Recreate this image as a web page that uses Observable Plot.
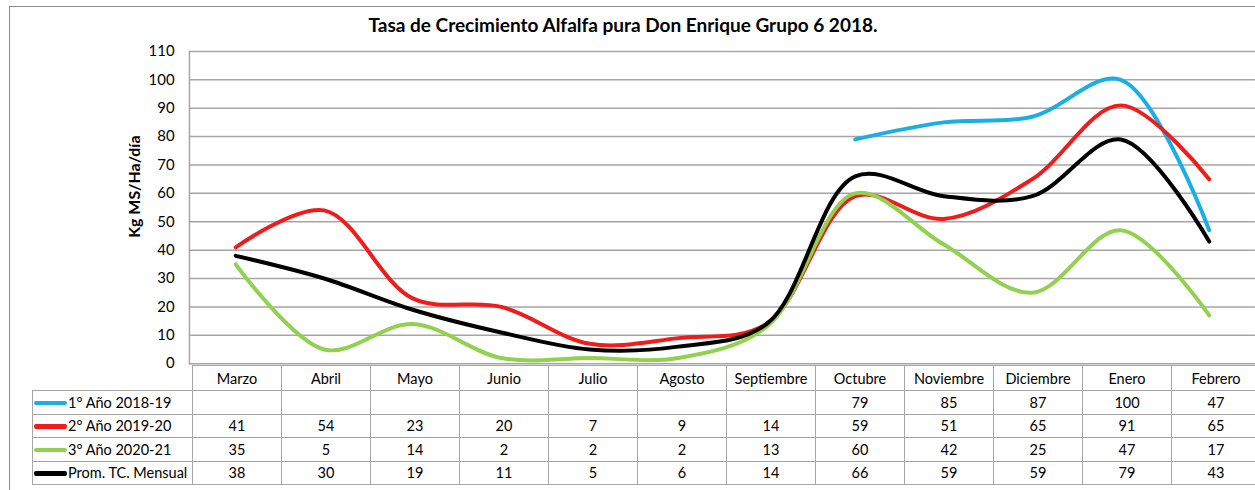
<!DOCTYPE html>
<html>
<head>
<meta charset="utf-8">
<script src="https://cdn.jsdelivr.net/npm/d3@7"></script>
<script src="https://cdn.jsdelivr.net/npm/@observablehq/plot@0.6"></script>
<style>
  html, body { margin: 0; padding: 0; background: #fff; overflow: hidden; width: 1255px; height: 490px; }
  body { position: relative; font-family: Lato, "Liberation Sans", sans-serif; color: #000; }
  #frame { position: absolute; left: 9px; top: 6px; width: 1400px; height: 600px; border: 1px solid #8c8c8c; box-sizing: border-box; }
  #title { position: absolute; left: 0; width: 1246px; top: 13px; text-align: center; font-weight: bold; font-size: 19px; }
  #chart { position: absolute; left: 0; top: 40px; }
  #table { position: absolute; top: 365px; border-collapse: collapse; table-layout: fixed; font-size: 14.5px; }
  #table td { border: 1.5px solid #a6a6a6; text-align: center; padding: 0; height: 22.5px; white-space: nowrap; overflow: hidden; }
  #table tr.head td { height: 24px; }
  #table td.blank { border: none; }
  #table td.leg { text-align: left; padding-left: 1px; }
  .sw { display: inline-block; width: 33px; height: 4.5px; border-radius: 2px; vertical-align: middle; margin-right: 1px; position: relative; top: -1px; }
</style>
</head>
<body>
<div id="frame"></div>
<div id="title">Tasa de Crecimiento Alfalfa pura Don Enrique Grupo 6 2018.</div>
<div id="chart"></div>
<table id="table"></table>
<script>
const months = ["Marzo","Abril","Mayo","Junio","Julio","Agosto","Septiembre","Octubre","Noviembre","Diciembre","Enero","Febrero"];
const seriesNames = ["1° Año 2018-19","2° Año 2019-20","3° Año 2020-21","Prom. TC. Mensual"];
const anio1 = [null,null,null,null,null,null,null,79,85,87,100,47];
const anio2 = [41,54,23,20,7,9,14,59,51,65,91,65];
const anio3 = [35,5,14,2,2,2,13,60,42,25,47,17];
const promedio = [38,30,19,11,5,6,14,66,59,59,79,43];
const seriesColors = ["#1aaee5","#ee1c1c","#92d050","#000000"];
const yTicks = [0,10,20,30,40,50,60,70,80,90,100,110];
const yLabel = "Kg MS/Ha/día";

const seriesValues = [anio1, anio2, anio3, promedio];
const long = [];
seriesValues.forEach((vals, si) => {
  vals.forEach((v, mi) => long.push({serie: seriesNames[si], mes: months[mi], valor: v}));
});

const plot = Plot.plot({
  width: 1262,
  height: 330,
  marginLeft: 190,
  marginRight: 0,
  marginTop: 11,
  marginBottom: 5,
  style: {fontFamily: "Lato, 'Liberation Sans', sans-serif", fontSize: "15px", background: "transparent", overflow: "visible"},
  x: {type: "band", domain: months, padding: 0, axis: null},
  y: {domain: [0, 110], ticks: yTicks, label: null},
  color: {domain: seriesNames, range: seriesColors},
  marks: [
    Plot.gridY(yTicks, {stroke: "#a6a6a6", strokeOpacity: 1, strokeWidth: 1.5}),
    Plot.frame({anchor: "left", stroke: "#a6a6a6", strokeWidth: 1.5}),
    Plot.axisY(yTicks, {tickSize: 0, tickPadding: 15, label: null, fontSize: 15}),
    Plot.text([yLabel], {frameAnchor: "left", textAnchor: "middle", text: d => d, rotate: -90, dx: -55, dy: -21, fontWeight: "bold", fontSize: 16}),
    Plot.line(long, {x: "mes", y: "valor", z: "serie", stroke: "serie", strokeWidth: 4, curve: "catmull-rom", strokeLinecap: "round"})
  ]
});
document.getElementById("chart").appendChild(plot);

// data table aligned to the plot's x scale
const xs = plot.scale("x");
const colW = xs.bandwidth;
const left0 = xs.apply(months[0]);
const legW = left0 - 32;
const table = document.getElementById("table");
table.style.left = (32) + "px";
let html = `<colgroup><col style="width:${legW}px">` + months.map(() => `<col style="width:${colW}px">`).join("") + `</colgroup>`;
html += `<tr class="head"><td class="blank"></td>` + months.map(m => `<td>${m}</td>`).join("") + `</tr>`;
seriesNames.forEach((name, si) => {
  html += `<tr><td class="leg"><span class="sw" style="background:${seriesColors[si]}"></span>${name}</td>` +
    seriesValues[si].map(v => `<td>${v == null ? "" : v}</td>`).join("") + `</tr>`;
});
table.innerHTML = html;
table.style.width = (legW + colW * months.length) + "px";
</script>
</body>
</html>
